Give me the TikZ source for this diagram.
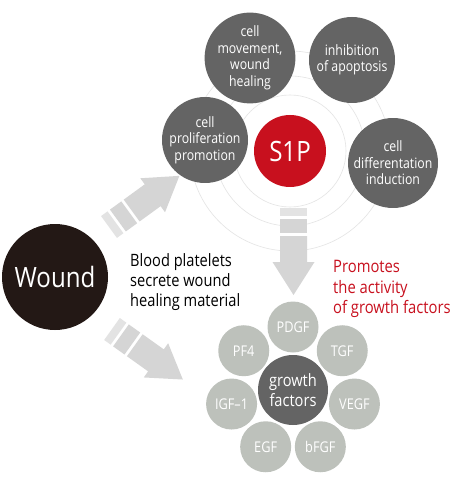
\documentclass[tikz,border=0pt]{standalone}
\usepackage{fontspec}
\usetikzlibrary{calc}
\setmainfont[FakeStretch=0.86]{Open Sans}
\definecolor{dgray}{HTML}{646464}
\definecolor{s1pred}{HTML}{C8101E}
\definecolor{wound}{HTML}{231815}
\definecolor{lgreen}{HTML}{BDC1BB}
\definecolor{ring}{HTML}{E4E4E4}
\definecolor{arrA}{HTML}{E3E3E3}
\definecolor{arrB}{HTML}{D5D5D5}
\definecolor{promo}{HTML}{C8101E}
\tikzset{
  effect/.style={circle, fill=dgray, text=white, inner sep=0pt, minimum size=86pt, align=center,
    font=\fontsize{14.3}{16.5}\selectfont},
  factor/.style={circle, fill=lgreen, text=white, inner sep=0pt, minimum size=51pt,
    font=\fontsize{14.8}{17}\selectfont},
  ringline/.style={draw=ring, line width=0.6pt},
  gaparrow/.pic={
    \fill[arrA] (0,-13.5) rectangle (8,13.5);
    \fill[arrB] (11,-13.5) rectangle (25,13.5);
    \fill[arrB] (28,-13.5) -- (54,-13.5) -- (54,-21) -- (87,0) -- (54,21) -- (54,13.5) -- (28,13.5) -- cycle;
  }
}
\begin{document}
\begin{tikzpicture}[x=1pt,y=-1pt]
\useasboundingbox (0,0) rectangle (457,486);
\fill[white] (0,0) rectangle (457,486);

% rings around S1P
\coordinate (rc) at (290,151);
\foreach \r in {56,75,100} \draw[ringline] (rc) circle[radius=\r];

% S1P and its effects
\node[circle, fill=s1pred, text=white, inner sep=0pt, minimum size=72pt,
  font=\fontsize{28}{30}\selectfont] (s1p) at (290,151) {S1P};
\node[effect] (move) at (250,58) {cell\\movement,\\wound\\healing};
\node[effect] (apop) at (352,60) {inhibition\\of apoptosis};
\node[effect] (prol) at (205,140) {cell\\proliferation\\promotion};
\node[effect] (diff) at (393,163) {cell\\differentation\\induction};

% wound
\node[circle, fill=wound, text=white, inner sep=0pt, minimum size=106pt,
  font=\fontsize{28}{30}\selectfont] (wnd) at (55,277) {Wound};

\node[anchor=west, align=left, inner sep=0pt, text=black,
  font=\fontsize{17}{20}\selectfont] (plate) at (130,282) {Blood platelets\\secrete wound\\healing material};

\node[anchor=west, align=left, inner sep=0pt, text=promo,
  font=\fontsize{17.2}{20.5}\selectfont] (promote) at (333,289) {Promotes\\the activity\\of growth factors};

% growth factors
\node[circle, fill=dgray, text=white, inner sep=0pt, minimum size=70pt, align=center,
  font=\fontsize{17}{19.5}\selectfont] (gf) at (293,390) {growth\\factors};
\foreach \n/\t [count=\i from 0] in {pdgf/PDGF, tgf/TGF, vegf/VEGF, bfgf/bFGF, egf/EGF, igf/IGF–1, pf4/PF4}
  \node[factor] (\n) at ($(gf)+({-90+\i*360/7}:63)$) {\t};

% block arrows
\coordinate (upA) at (109,227);
\coordinate (loA) at (112,329);
\coordinate (vtA) at (293.5,208);
\pic[rotate=36] at (upA) {gaparrow};
\pic[rotate=-35.5] at (loA) {gaparrow};
\pic[rotate=-90] at (vtA) {gaparrow};
\end{tikzpicture}
\end{document}
